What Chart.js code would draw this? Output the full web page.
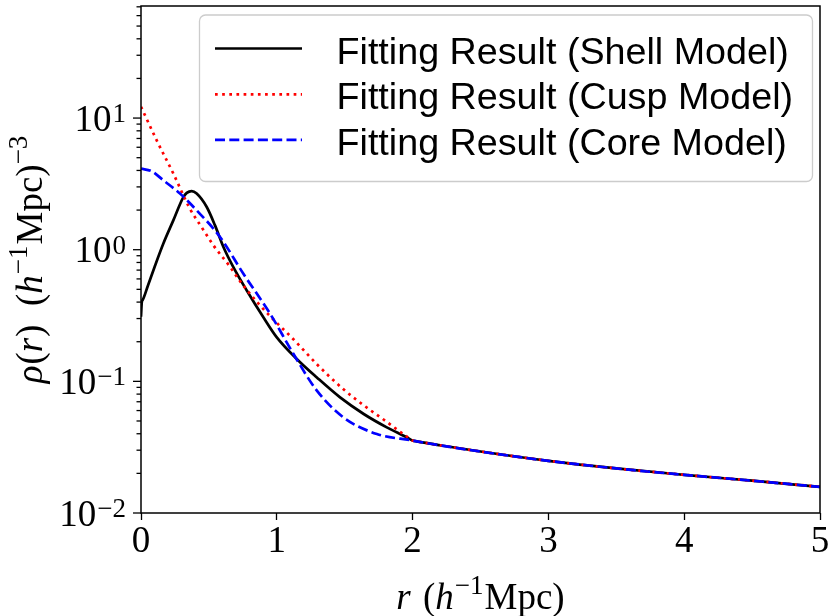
<!DOCTYPE html>
<html><head><meta charset="utf-8">
<script src="https://cdn.jsdelivr.net/npm/chart.js@4.4.1/dist/chart.umd.min.js"></script>
<style>html,body{margin:0;padding:0;background:#fff;}</style>
</head><body>
<canvas id="c" width="830" height="616"></canvas>
<script>
// ---- data ----
const seriesNames = ['Fitting Result (Shell Model)', 'Fitting Result (Cusp Model)', 'Fitting Result (Core Model)'];
const tailR   = [2.03, 2.2, 2.5, 3.0, 3.5, 4.0, 4.5, 5.0];
const tailRho = [0.0350, 0.0327, 0.0293, 0.0249, 0.0218, 0.0195, 0.0176, 0.0158];
const shellR   = [0, 0.006, 0.012, 0.05, 0.1, 0.164, 0.238, 0.312, 0.337, 0.373, 0.41, 0.484, 0.545, 0.607, 0.68, 0.779, 0.901, 1.0, 1.147, 1.295, 1.466, 1.64, 1.81, 1.958, 2.0];
const shellRho = [0.31, 0.40, 0.414, 0.53, 0.74, 1.11, 1.67, 2.51, 2.70, 2.79, 2.67, 2.11, 1.53, 1.05, 0.738, 0.49, 0.307, 0.216, 0.148, 0.107, 0.0755, 0.0565, 0.0447, 0.0375, 0.0355];
const cuspR   = [0, 0.115, 0.238, 0.361, 0.447, 0.533, 0.656, 0.73, 0.865, 0.975, 1.122, 1.295, 1.491, 1.638, 1.786, 1.958, 2.0];
const cuspRho = [12.2, 6.79, 3.79, 2.04, 1.48, 1.08, 0.741, 0.575, 0.389, 0.295, 0.209, 0.135, 0.087, 0.066, 0.0513, 0.038, 0.0355];
const coreR   = [0, 0.08, 0.164, 0.287, 0.41, 0.582, 0.754, 0.951, 1.122, 1.295, 1.491, 1.737, 2.0];
const coreRho = [4.13, 3.94, 3.37, 2.67, 1.99, 1.25, 0.656, 0.326, 0.162, 0.085, 0.0532, 0.0398, 0.0355];
const xTicks = [0, 1, 2, 3, 4, 5];
const yDecades = [0.01, 0.1, 1, 10];
const yExponents = ['\u22122', '\u22121', '0', '1'];
const yMin = 0.01, yMax = 71;

const toPts = (rs, vs) => rs.map((r, i) => ({x: r, y: vs[i]}));
const withTail = (rs, vs) => toPts(rs.concat(tailR), vs.concat(tailRho));

const SERIF = '"Liberation Serif", "Times New Roman", serif';
const SANS = '"Liberation Sans", Arial, sans-serif';

function drawParts(ctx, parts, x0, baseline, size) {
  let x = x0;
  for (const p of parts) {
    const fs = p.sup ? Math.round(size * 0.72) : size;
    ctx.font = (p.it ? 'italic ' : '') + fs + 'px ' + SERIF;
    ctx.fillText(p.t, x, p.sup ? baseline - 15 : baseline);
    x += ctx.measureText(p.t).width + (p.gap || 0);
  }
  return x - x0;
}
function partsWidth(ctx, parts, size) {
  let w = 0;
  for (const p of parts) {
    const fs = p.sup ? Math.round(size * 0.72) : size;
    ctx.font = (p.it ? 'italic ' : '') + fs + 'px ' + SERIF;
    w += ctx.measureText(p.t).width + (p.gap || 0);
  }
  return w;
}

const decor = {
  id: 'decor',
  afterDraw(chart) {
    const {ctx, chartArea: a, scales: {x, y}} = chart;
    ctx.save();
    ctx.fillStyle = '#000';
    ctx.strokeStyle = '#000';
    ctx.setLineDash([]);
    // y tick marks (major + minor)
    ctx.lineWidth = 1.3;
    for (const d of yDecades.concat([100])) {
      for (let m = 1; m <= 9; m++) {
        const v = (d / 10) * m;
        if (v < yMin - 1e-12 || v > yMax) continue;
        const py = y.getPixelForValue(v);
        const len = (m === 1) ? 8 : 4.5;
        ctx.beginPath(); ctx.moveTo(a.left - len, py); ctx.lineTo(a.left, py); ctx.stroke();
      }
    }
    // y tick labels 10^n
    ctx.textAlign = 'left'; ctx.textBaseline = 'alphabetic';
    yDecades.forEach((d, i) => {
      const py = y.getPixelForValue(d);
      ctx.font = '27px ' + SERIF;
      const ew = ctx.measureText(yExponents[i]).width;
      ctx.font = '37px ' + SERIF;
      const bw = ctx.measureText('10').width;
      const right = a.left - 15;
      ctx.fillText('10', right - ew - bw - 1, py + 12.5);
      ctx.font = '27px ' + SERIF;
      ctx.fillText(yExponents[i], right - ew, py + 4);
    });
    // frame
    ctx.lineWidth = 1.5;
    ctx.strokeRect(a.left, a.top, a.right - a.left, a.bottom - a.top);
    // x title
    const xParts = [{t: 'r', it: true, gap: 3}, {t: ' (', gap: 0}, {t: 'h', it: true, gap: 1}, {t: '\u22121', sup: true, gap: 1}, {t: 'Mpc)'}];
    const xw = partsWidth(ctx, xParts, 37);
    drawParts(ctx, xParts, (a.left + a.right) / 2 - xw / 2, 609, 37);
    // y title
    const yParts = [{t: '\u03c1', it: true, gap: 1}, {t: '('}, {t: 'r', it: true, gap: 1}, {t: ')  ('}, {t: 'h', it: true, gap: 1}, {t: '\u22121', sup: true, gap: 1}, {t: 'Mpc)'}, {t: '\u22123', sup: true}];
    const yw = partsWidth(ctx, yParts, 37);
    ctx.save();
    ctx.translate(42, (a.top + a.bottom) / 2);
    ctx.rotate(-Math.PI / 2);
    drawParts(ctx, yParts, -yw / 2, 0, 37);
    ctx.restore();
    // legend
    const L = a.right - 620.5, T = a.top + 9, W = 613, H = 166.5;
    ctx.beginPath();
    ctx.roundRect(L, T, W, H, 6);
    ctx.fillStyle = 'rgba(255,255,255,0.8)';
    ctx.fill();
    ctx.strokeStyle = '#cccccc'; ctx.lineWidth = 1.3;
    ctx.stroke();
    const rowY = [T + 33.5, T + 79.3, T + 124.8];
    chart.data.datasets.forEach((ds, i) => {
      ctx.strokeStyle = ds.borderColor;
      ctx.lineWidth = ds.borderWidth;
      ctx.lineCap = 'butt';
      ctx.setLineDash(ds.borderDash || []);
      ctx.beginPath(); ctx.moveTo(L + 15.5, rowY[i]); ctx.lineTo(L + 102.5, rowY[i]); ctx.stroke();
      ctx.setLineDash([]);
      ctx.fillStyle = '#000';
      ctx.font = '37.7px ' + SANS;
      ctx.textAlign = 'left';
      ctx.fillText(seriesNames[i], L + 137, rowY[i] + 15);
    });
    ctx.restore();
  }
};

new Chart(document.getElementById('c'), {
  type: 'line',
  data: {
    datasets: [
      {label: seriesNames[0], data: withTail(shellR, shellRho), borderColor: '#000000', borderWidth: 2.7, order: 2},
      {label: seriesNames[1], data: withTail(cuspR, cuspRho), borderColor: '#ff0000', borderWidth: 2.7, borderDash: [2.7, 4.45], order: 1},
      {label: seriesNames[2], data: withTail(coreR, coreRho), borderColor: '#0000ff', borderWidth: 2.7, borderDash: [10, 4.3], order: 0}
    ]
  },
  options: {
    responsive: false,
    animation: false,
    devicePixelRatio: 1,
    parsing: true,
    elements: {point: {radius: 0}, line: {cubicInterpolationMode: 'monotone', borderCapStyle: 'butt', fill: false}},
    layout: {padding: {left: 0, right: 10, top: 6, bottom: 0}},
    plugins: {legend: {display: false}, tooltip: {enabled: false}},
    scales: {
      x: {
        type: 'linear', min: 0, max: 5,
        afterBuildTicks: (s) => { s.ticks = xTicks.map(v => ({value: v})); },
        afterFit: (s) => { s.height = 103; },
        border: {display: false},
        grid: {display: true, drawOnChartArea: false, drawTicks: true, tickLength: 7, tickColor: '#000', tickWidth: 1.3},
        ticks: {color: '#000', padding: 0, font: {family: SERIF, size: 37}, maxRotation: 0}
      },
      y: {
        type: 'logarithmic', min: yMin, max: yMax,
        afterFit: (s) => { s.width = 141; },
        border: {display: false},
        grid: {display: false},
        ticks: {display: false}
      }
    }
  },
  plugins: [decor]
});
</script>
</body></html>
